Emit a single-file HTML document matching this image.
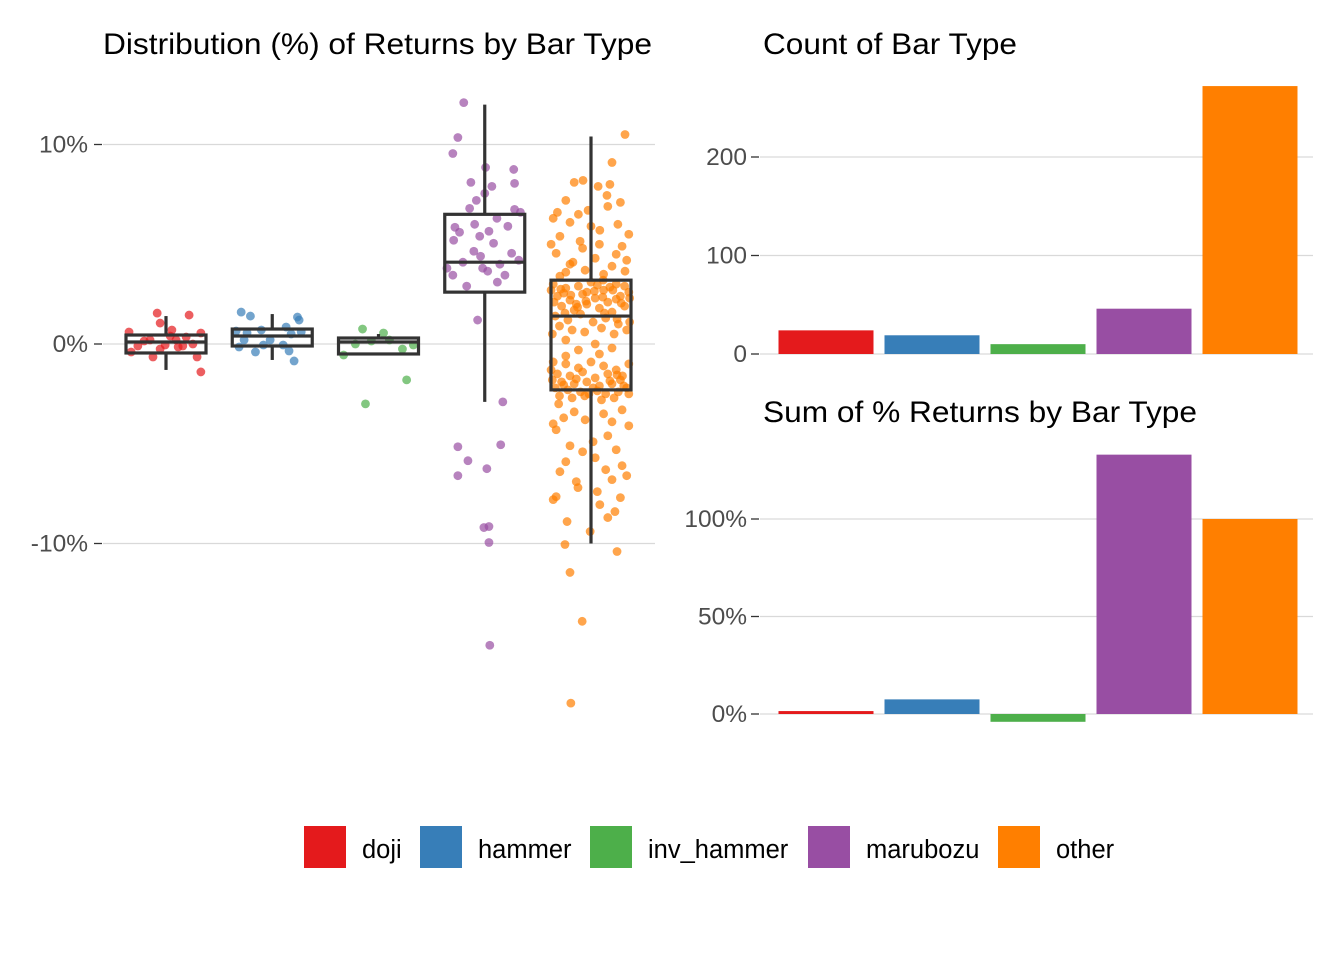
<!DOCTYPE html>
<html><head><meta charset="utf-8">
<style>
html,body{margin:0;padding:0;background:#fff;}
svg{display:block;font-family:"Liberation Sans",Arial,sans-serif;}
.tick{font-size:24.5px;fill:#4d4d4d;}
.title{font-size:30px;fill:#000;}
.leg{font-size:25.5px;fill:#000;}
</style></head>
<body>
<svg id="chart" width="1344" height="960" viewBox="0 0 1344 960" xmlns="http://www.w3.org/2000/svg">
<rect width="1344" height="960" fill="#fff"/>
<g id="left"></g>
<g id="rtop"></g>
<g id="rbot"></g>
<g id="legend"></g>
</svg>
<script>
const categories=["doji","hammer","inv_hammer","marubozu","other"];
const colors=["#E41A1C","#377EB8","#4DAF4A","#984EA3","#FF7F00"];
const counts=[24,19,10,46,272];
const sums=[1.5,7.5,-4,133,100];
const countTicks=[0,100,200];
const sumTicks=[0,50,100];
const distTicks=[10,0,-10];
// box stats: [whiskerLow, q1, median, q3, whiskerHigh] in %
const boxStats=[
[-1.3,-0.45,0.1,0.45,1.4],
[-0.8,-0.1,0.4,0.75,1.5],
[-0.5,-0.5,0.1,0.3,0.5],
[-2.9,2.6,4.1,6.5,12.0],
[-10.0,-2.3,1.4,3.2,10.4]
];
// jittered points: [jitter(-1..1), return %]
const pts0=[[-0.21,1.55],[0.55,1.45],[-0.14,1.05],[0.14,0.7],[-0.88,0.6],[0.83,0.55],[-0.52,0.15],[0.48,0.35],[-0.02,-0.05],[0.29,-0.15],[-0.83,-0.4],[-0.31,-0.65],[0.74,-0.65],[0.83,-1.4],[-0.38,0.2],[0.4,-0.1],[-0.67,-0.1],[0.64,0.0],[0.1,0.4],[-0.14,-0.25],[0.24,0.2]];
const pts1=[[-0.74,1.6],[-0.52,1.4],[0.6,1.35],[0.64,1.2],[-0.86,0.65],[-0.26,0.7],[0.33,0.85],[0.45,0.5],[-0.67,0.2],[-0.05,0.2],[-0.4,-0.4],[0.4,-0.35],[-0.79,-0.15],[0.52,-0.85],[0.69,0.6],[-0.21,-0.05],[0.26,-0.05],[-0.6,0.55]];
const pts2=[[-0.38,0.75],[0.12,0.55],[-0.83,-0.55],[-0.55,0.0],[-0.17,0.15],[0.57,-0.25],[0.83,-0.05],[0.67,-1.8],[-0.31,-3.0],[0.26,0.2]];
const pts3=[[-0.5,12.1],[-0.64,10.35],[-0.76,9.55],[0.69,8.75],[0.02,8.85],[-0.33,8.1],[0.17,7.9],[0.71,8.05],[0.0,7.55],[-0.36,6.8],[0.71,6.75],[0.29,6.3],[-0.71,5.85],[-0.24,6.0],[0.1,5.65],[-0.74,5.2],[-0.12,5.4],[0.21,5.05],[0.64,4.55],[-0.26,4.65],[-0.52,4.1],[0.07,3.65],[-0.76,3.45],[0.48,3.45],[-0.43,2.9],[-0.17,1.2],[0.43,-2.9],[-0.64,-5.15],[0.38,-5.05],[-0.4,-5.85],[-0.64,-6.6],[0.05,-6.25],[0.1,-9.15],[-0.02,-9.2],[0.1,-9.95],[0.12,-15.1],[0.81,4.2],[-0.05,3.8],[0.36,4.0],[-0.9,3.8],[0.55,5.9],[-0.1,4.4],[0.3,3.1],[-0.6,5.6],[0.85,6.6],[-0.2,7.2]];
const pts4=[[0.81,10.5],[0.5,9.1],[-0.19,8.2],[0.17,7.9],[-0.6,7.2],[0.38,7.45],[-0.07,6.7],[-0.9,6.3],[-0.5,6.1],[0.64,6.0],[0.21,5.7],[-0.74,5.4],[-0.26,5.15],[0.74,4.9],[-0.83,4.55],[0.1,4.3],[-0.43,4.1],[0.5,3.9],[-0.14,3.7],[-0.74,3.4],[0.81,3.65],[0.29,3.2],
[-0.4,8.1],[0.45,8.0],[-0.3,6.5],[0.9,5.5],[-0.95,5.0],[0.6,4.5],[-0.6,3.6],[0.3,3.5],[-0.2,4.8],[0.0,5.9],[0.7,7.1],[-0.8,6.6],[0.4,6.9],[-0.5,4.0],[0.85,4.2],[0.2,5.0],
[-0.9,3.0],[-0.6,2.8],[-0.3,2.9],[0.0,3.1],[0.3,2.7],[0.6,3.0],[0.9,2.6],[-0.8,2.4],[-0.5,2.2],[-0.2,2.5],[0.1,2.3],[0.4,2.1],[0.7,2.4],[-0.7,1.9],[-0.4,1.7],[-0.1,2.0],[0.2,1.8],[0.5,1.6],[0.8,1.9],[-0.85,1.4],[-0.55,1.2],[-0.25,1.5],[0.05,1.1],[0.35,1.3],[0.65,1.0],[-0.75,0.9],[-0.45,0.7],[-0.15,0.6],[0.25,0.8],[0.55,0.5],[0.85,0.7],[-0.6,0.2],[0.1,0.0],[0.5,-0.2],[-0.3,-0.3],[0.8,2.9],[-0.95,2.7],[0.45,2.85],[-0.1,2.6],[0.15,2.95],[-0.65,2.55],[0.6,2.25],[-0.35,2.0],
[-0.88,2.1],[-0.72,2.75],[-0.48,2.45],[-0.12,2.15],[0.08,2.65],[0.28,2.35],[0.52,2.7],[0.72,2.05],[0.92,2.3],[-0.62,1.55],[-0.32,1.85],[0.32,1.55],[0.62,1.25],[-0.92,0.5],[0.92,1.1],
[-0.9,-0.9],[-0.6,-1.0],[-0.3,-1.2],[0.0,-0.9],[0.3,-1.1],[0.6,-1.3],[0.9,-1.0],[-0.8,-1.5],[-0.5,-1.6],[-0.2,-1.4],[0.1,-1.7],[0.4,-1.5],[0.7,-1.8],[-0.7,-1.9],[-0.4,-2.0],[-0.1,-1.9],[0.2,-2.1],[0.5,-2.0],[0.85,-2.2],[-0.85,-2.2],[-0.55,-2.3],[-0.25,-2.4],[0.05,-2.2],[0.35,-2.5],[0.65,-2.4],[-0.75,-2.6],[-0.45,-2.7],[-0.15,-2.6],[0.25,-2.8],[0.55,-2.7],[0.9,-2.5],[-0.6,-0.6],[0.2,-0.5],[-0.95,-1.3],[0.75,-1.6],
[-0.65,-2.05],[-0.35,-1.75],[0.15,-2.35],[0.45,-1.85],[0.78,-2.1],[-0.92,-1.8],[-0.05,-2.5],[0.62,-1.55],
[-0.77,-3.0],[0.74,-3.3],[-0.14,-3.8],[-0.83,-4.3],[0.4,-4.6],[-0.5,-5.1],[0.1,-5.7],[0.74,-6.1],[-0.74,-6.4],[0.5,-6.8],[-0.31,-7.2],[-0.83,-7.65],[0.21,-8.05],[0.57,-8.4],[-0.57,-8.9],[-0.02,-9.4],[-0.62,-10.05],[0.62,-10.4],[-0.5,-11.45],[-0.21,-13.9],[-0.48,-18.0],
[0.3,-3.5],[-0.4,-3.4],[0.9,-4.1],[-0.9,-4.0],[0.05,-4.9],[-0.2,-5.4],[0.6,-5.3],[-0.6,-5.9],[0.35,-6.3],[0.85,-6.6],[-0.35,-6.9],[0.15,-7.4],[0.7,-7.7],[-0.9,-7.8],[0.4,-8.7],[-0.65,-3.7],[0.5,-3.9]];
const allPts=[pts0,pts1,pts2,pts3,pts4];

const NS="http://www.w3.org/2000/svg";
function mk(parent,tag,attrs,text){const e=document.createElementNS(NS,tag);for(const k in attrs)e.setAttribute(k,attrs[k]);if(text!==undefined)e.textContent=text;parent.appendChild(e);return e;}

// ---------- left panel ----------
const L=document.getElementById('left');
const lx0=98,lx1=655;
const yL=v=>344-v*19.95;
const xL=i=>166+i*106.25;
mk(L,'text',{x:103,y:54,class:'title',textLength:549,lengthAdjust:'spacingAndGlyphs',},"Distribution (%) of Returns by Bar Type");
distTicks.forEach(t=>{
  const g=mk(L,'line',{x1:lx0+5,x2:lx1,y1:yL(t),y2:yL(t),stroke:'#d9d9d9','stroke-width':1.3});
  
  const tk=mk(L,'line',{x1:lx0-4,x2:lx0+4,y1:yL(t),y2:yL(t),stroke:'#333','stroke-width':1.3});
  
  const lb=mk(L,'text',{x:lx0-10,y:yL(t)+8,'text-anchor':'end',class:'tick'},t+"%");
  
});
allPts.forEach((arr,i)=>{
  arr.forEach(p=>{
    const c=mk(L,'circle',{cx:xL(i)+p[0]*42,cy:yL(p[1]),r:4.4,fill:colors[i],'fill-opacity':0.7});
    
    
  });
});
boxStats.forEach((b,i)=>{
  const cx=xL(i),w=40;
  const g=mk(L,'g',{stroke:'#333','stroke-width':3.2,fill:'none'});
  
  
  mk(g,'line',{x1:cx,x2:cx,y1:yL(b[3]),y2:yL(b[4])});
  mk(g,'line',{x1:cx,x2:cx,y1:yL(b[1]),y2:yL(b[0])});
  mk(g,'rect',{x:cx-w,y:yL(b[3]),width:2*w,height:yL(b[1])-yL(b[3])});
  mk(g,'line',{x1:cx-w,x2:cx+w,y1:yL(b[2]),y2:yL(b[2])});
});

// ---------- bar panels ----------
const bx0=755,bx1=1313;
const xB=i=>826+i*106;
function barPanel(G,title,titleY,titleLen,vals,ticks,yf,fmt,nm){
  mk(G,'text',{x:763,y:titleY,class:'title',textLength:titleLen,lengthAdjust:'spacingAndGlyphs',},title);
  ticks.forEach(t=>{
    const g=mk(G,'line',{x1:bx0+5,x2:bx1,y1:yf(t),y2:yf(t),stroke:'#d9d9d9','stroke-width':1.3});
    
    const tk=mk(G,'line',{x1:bx0-4,x2:bx0+4,y1:yf(t),y2:yf(t),stroke:'#333','stroke-width':1.3});
    
    const lb=mk(G,'text',{x:bx0-8,y:yf(t)+8,'text-anchor':'end',class:'tick'},fmt(t));
    
  });
  vals.forEach((v,i)=>{
    const y0=yf(0),y1=yf(v);
    const r=mk(G,'rect',{x:xB(i)-47.5,y:Math.min(y0,y1),width:95,height:Math.abs(y1-y0),fill:colors[i]});
    
    
  });
}
barPanel(document.getElementById('rtop'),"Count of Bar Type",54,254,counts,countTicks,v=>354-v*0.985,t=>String(t),'count');
barPanel(document.getElementById('rbot'),"Sum of % Returns by Bar Type",422,434,sums,sumTicks,v=>714-v*1.95,t=>t+"%",'sum');

// ---------- legend ----------
const LG=document.getElementById('legend');
const keyX=[304,420,590,808,998];
categories.forEach((c,i)=>{
  const r=mk(LG,'rect',{x:keyX[i],y:826,width:42,height:42,fill:colors[i]});
  
  
  const t=mk(LG,'text',{x:keyX[i]+58,y:858,class:'leg'},c);
  
  
});
</script>
</body></html>
